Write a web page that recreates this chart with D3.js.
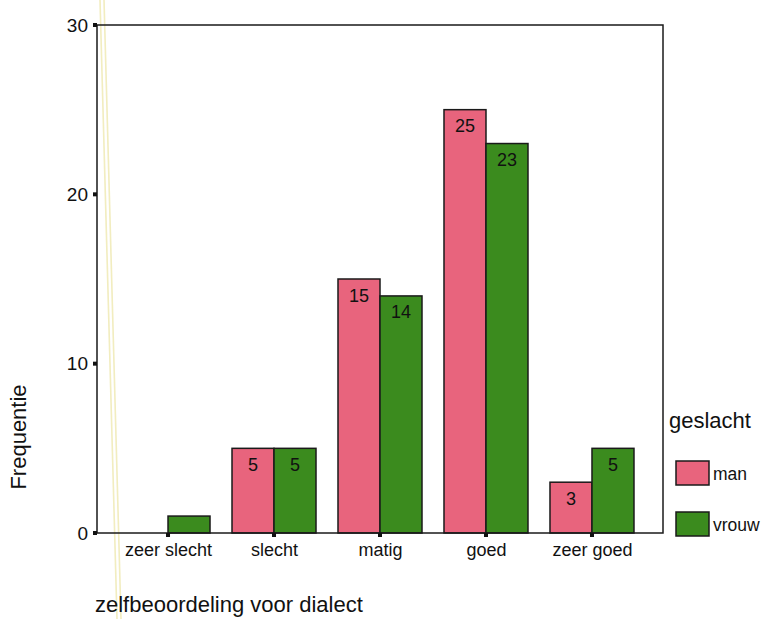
<!DOCTYPE html>
<html><head><meta charset="utf-8">
<script src="https://cdn.jsdelivr.net/npm/d3@7"></script>
<style>body{margin:0;background:#fff;} svg{display:block;font-family:Arial,"Liberation Sans",sans-serif;}</style>
</head><body>
<script>
const categories = ["zeer slecht","slecht","matig","goed","zeer goed"];
const seriesNames = ["man","vrouw"];
const manValues = [0,5,15,25,3];
const vrouwValues = [1,5,14,23,5];
const yTicks = [0,10,20,30];
const colors = {man:"#e8647d", vrouw:"#3b8b1e"};
const FONT="Arial,'Liberation Sans',sans-serif";

const W=762,H=619;
const svg=d3.select("body").append("svg").attr("width",W).attr("height",H);
const L=97,R=663,T=25,B=533;
const x=d3.scalePoint().domain(categories).range([L,R]).padding(0.67);
const y=d3.scaleLinear().domain([0,30]).range([B,T]);
const bw=42;

// scan artifact lines
[0,4].forEach(o=>{
  svg.append("line").attr("x1",100+o).attr("y1",0).attr("x2",117+o).attr("y2",619)
    .attr("stroke","#efe9b0").attr("stroke-width",1.6).attr("opacity",0.8);
});

// bars
const data=[];
categories.forEach((c,i)=>{
  data.push({c,s:"man",v:manValues[i],off:-bw});
  data.push({c,s:"vrouw",v:vrouwValues[i],off:0});
});
const g=svg.append("g");
g.selectAll("rect.bar").data(data.filter(d=>d.v>0)).join("rect")
  .attr("x",d=>x(d.c)+d.off).attr("y",d=>y(d.v))
  .attr("width",bw).attr("height",d=>y(0)-y(d.v))
  .attr("fill",d=>colors[d.s]).attr("stroke","#1a1a1a").attr("stroke-width",1.5);
g.selectAll("text.lbl").data(data.filter(d=>d.v>=2)).join("text")
  .attr("x",d=>x(d.c)+d.off+bw/2).attr("y",d=>y(d.v)+22.5)
  .attr("text-anchor","middle").attr("font-size",18).attr("fill","#111")
  .text(d=>d.v);

// frame
svg.append("rect").attr("x",L).attr("y",T).attr("width",R-L).attr("height",B-T)
  .attr("fill","none").attr("stroke","#1a1a1a").attr("stroke-width",1.5);

// y axis
const yAxis=d3.axisLeft(y).tickValues(yTicks).tickSize(0).tickPadding(9);
const ya=svg.append("g").attr("transform",`translate(${L},0)`).call(yAxis);
ya.select(".domain").remove();
ya.selectAll("text").attr("font-size",19).attr("fill","#111").attr("font-family",FONT);
svg.selectAll("rect.yt").data(yTicks).join("rect").attr("class","yt")
  .attr("x",L-4).attr("y",d=>y(d)-2).attr("width",4).attr("height",4).attr("fill","#111");

// x axis
const xAxis=d3.axisBottom(x).tickSize(0).tickPadding(10);
const xa=svg.append("g").attr("transform",`translate(0,${B})`).call(xAxis);
xa.select(".domain").remove();
xa.selectAll("text").attr("font-size",18).attr("fill","#111").attr("font-family",FONT);
svg.selectAll("rect.xt").data(categories).join("rect").attr("class","xt")
  .attr("x",d=>x(d)-2).attr("y",B).attr("width",4).attr("height",4).attr("fill","#111");

// titles
svg.append("text").attr("transform","translate(26,437) rotate(-90)")
  .attr("text-anchor","middle").attr("font-size",22).attr("fill","#111").text("Frequentie");
svg.append("text").attr("x",95).attr("y",612).attr("font-size",22).attr("fill","#111")
  .text("zelfbeoordeling voor dialect");

// legend
svg.append("text").attr("x",669).attr("y",428).attr("font-size",22).attr("fill","#111").text("geslacht");
const lg=svg.selectAll("g.lg").data(seriesNames).join("g").attr("class","lg")
  .attr("transform",(d,i)=>`translate(676,${461+i*51})`);
lg.append("rect").attr("width",33).attr("height",24).attr("fill",d=>colors[d])
  .attr("stroke","#1a1a1a").attr("stroke-width",1.5);
lg.append("text").attr("x",37).attr("y",19).attr("font-size",17.5).attr("fill","#111").text(d=>d);
</script>
</body></html>
